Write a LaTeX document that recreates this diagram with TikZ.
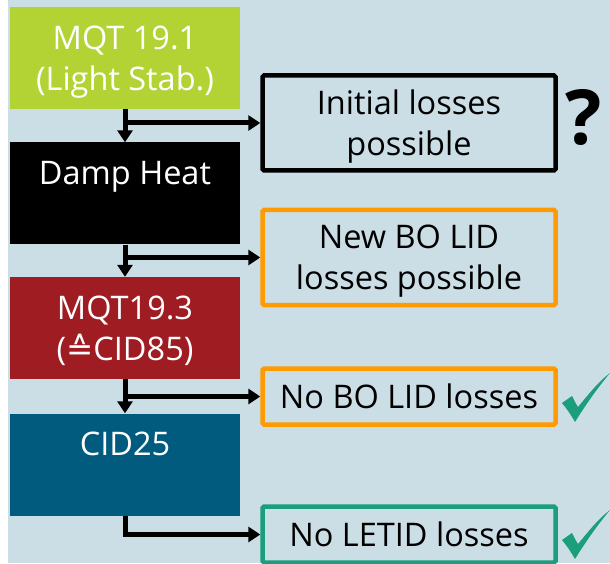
\documentclass[tikz,border=0pt]{standalone}
\usepackage{fontspec}
\setmainfont{Open Sans}
\newfontfamily\symfont{DejaVu Sans}
\usetikzlibrary{arrows.meta}
\definecolor{cBack}{HTML}{CBDDE5}
\definecolor{cLime}{HTML}{B3D335}
\definecolor{cRed}{HTML}{9E1C22}
\definecolor{cBlue}{HTML}{005B7F}
\definecolor{cOrange}{HTML}{FF9B00}
\definecolor{cTeal}{HTML}{1A9E7B}

\begin{document}
\begin{tikzpicture}[
  x=1pt,y=1pt,
  font=\fontsize{32.5}{41}\selectfont,
  test/.style ={minimum width=230pt,minimum height=102pt,align=center,text=white,inner sep=0pt,text depth=0pt},
  res/.style  ={draw,line width=4.5pt,rounded corners=1.5pt,minimum width=293pt,align=center,inner sep=0pt},
  a/.style    ={-{Triangle[length=12pt,width=15pt]},line width=5pt},
  tick/.style ={fill=cTeal},
]
\useasboundingbox (0,0) rectangle (610,563);
\fill[cBack] (8,0) rectangle (610,563);

% test sequence
\node[test,fill=cLime] (mqt1) at (125,505)   {MQT 19.1\\(Light Stab.)};
\node[test,fill=black] (dh)   at (125,369.5) {Damp Heat\\\strut};
\node[test,fill=cRed]  (mqt3) at (125,235)   {MQT19.3\\({\symfont ≙}CID85)};
\node[test,fill=cBlue] (cid)  at (125,98.5)  {CID25\\\strut};

% outcomes
\node[res,draw=black,minimum height=95pt,text depth=0pt]   (init)  at (409,440)   {Initial losses\\possible};
\node[res,draw=cOrange,minimum height=95pt,text depth=0pt] (newbo) at (409,305.5) {New BO LID\\losses possible};
\node[res,draw=cOrange,minimum height=56pt] (nobo)  at (409,166.5) {No BO LID losses};
\node[res,draw=cTeal,minimum height=56pt]   (noletid) at (409,28.5) {No LETID losses};

\node[font=\fontsize{76}{80}\selectfont\bfseries,anchor=base] (qm) at (583.5,418) {?};

\draw[a] (mqt1) -- (dh);
\draw[a] (dh) -- (mqt3);
\draw[a] (mqt3) -- (cid);
\draw[a] (mqt1.south |- init.west) -- (init.west);
\draw[a] (dh.south |- newbo.west) -- (newbo.west);
\draw[a] (mqt3.south |- nobo.west) -- (nobo.west);
\draw[a] (cid.south) |- (noletid.west);

% check marks
\foreach \y in {190,53}
  {\fill[tick,shift={(0,\y)}] (562,-30) -- (572,-23) .. controls (574,-27) and (576,-31) .. (578,-34)
     .. controls (588,-22) and (598,-9) .. (610,0) .. controls (600,-12) and (588,-28) .. (575,-49)
     .. controls (571,-42) and (567,-36) .. (562,-30) -- cycle;}
\end{tikzpicture}
\end{document}
